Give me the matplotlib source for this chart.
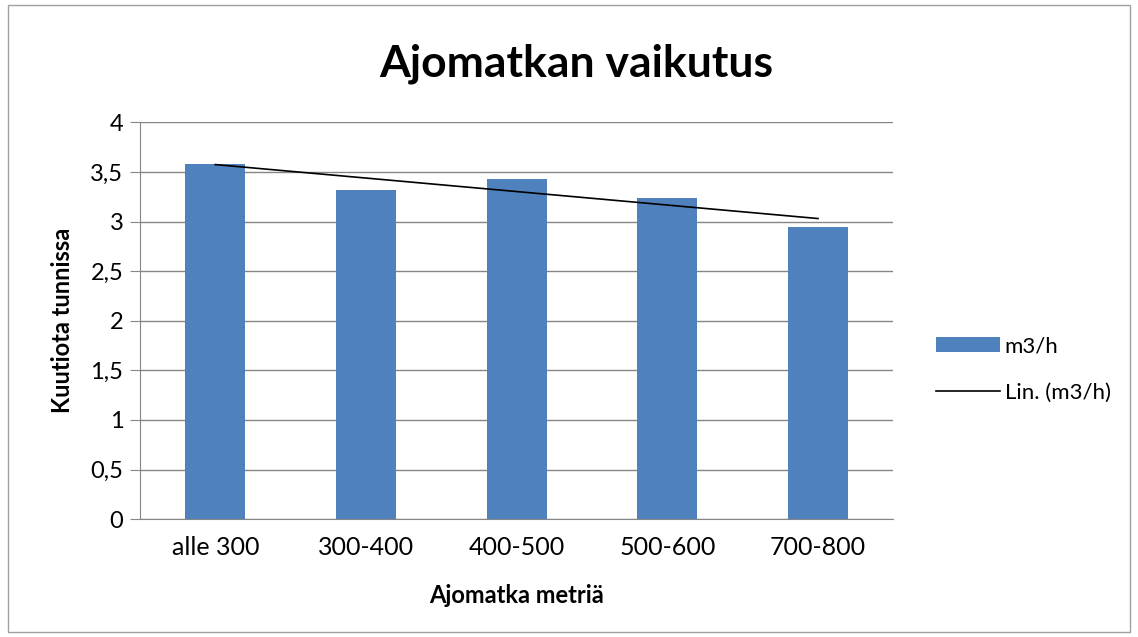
import numpy as np
import matplotlib.pyplot as plt
from matplotlib.patches import Rectangle

# data
categories = ['alle 300', '300-400', '400-500', '500-600', '700-800']
m3_per_h = [3.58, 3.32, 3.43, 3.24, 2.94]

plt.rcParams['font.family'] = ['Lato', 'DejaVu Sans']

fig = plt.figure(figsize=(11.38, 6.37), dpi=100)
ax = fig.add_axes([0.123, 0.185, 0.662, 0.623])

x = np.arange(len(categories))
bars = ax.bar(x, m3_per_h, width=0.4, color='#4F81BD', label='m3/h', zorder=3)

# linear trend line like Excel's "Lin."
k, b = np.polyfit(x, m3_per_h, 1)
trend, = ax.plot(x, k * x + b, color='black', lw=1.2, label='Lin. (m3/h)', zorder=4)

ax.set_xlim(-0.5, len(categories) - 0.5)
ax.set_ylim(0, 4)
yt = np.arange(0, 4.01, 0.5)
ax.set_yticks(yt)
ax.set_yticklabels([('%g' % v).replace('.', ',') for v in yt])
ax.set_xticks(x)
ax.set_xticklabels(categories)
ax.tick_params(axis='x', length=0, pad=12, labelsize=18)
ax.tick_params(axis='y', length=7, color='#868686', pad=5, labelsize=17)
ax.yaxis.grid(True, color='#868686', lw=1, zorder=0)

for side in ['top', 'right']:
    ax.spines[side].set_visible(False)
ax.spines['left'].set_color('#868686')
ax.spines['bottom'].set_color('#868686')

ax.set_xlabel('Ajomatka metriä', fontsize=17, fontweight='bold', labelpad=18)
ax.set_ylabel('Kuutiota tunnissa', fontsize=17, fontweight='bold', labelpad=12)
fig.text(0.506, 0.9, 'Ajomatkan vaikutus', ha='center', va='center',
         fontsize=32, fontweight='bold')

ax.legend([bars, trend], ['m3/h', 'Lin. (m3/h)'], loc='center left',
          bbox_to_anchor=(1.03, 0.377), frameon=False,
          fontsize=16, handlelength=2.9, labelspacing=1.2, handletextpad=0.2)

fig.patches.append(Rectangle((0.007, 0.008), 0.986, 0.984, transform=fig.transFigure,
                             fill=False, edgecolor='#A0A0A0', lw=1))

fig.savefig('out.png', dpi=100)
